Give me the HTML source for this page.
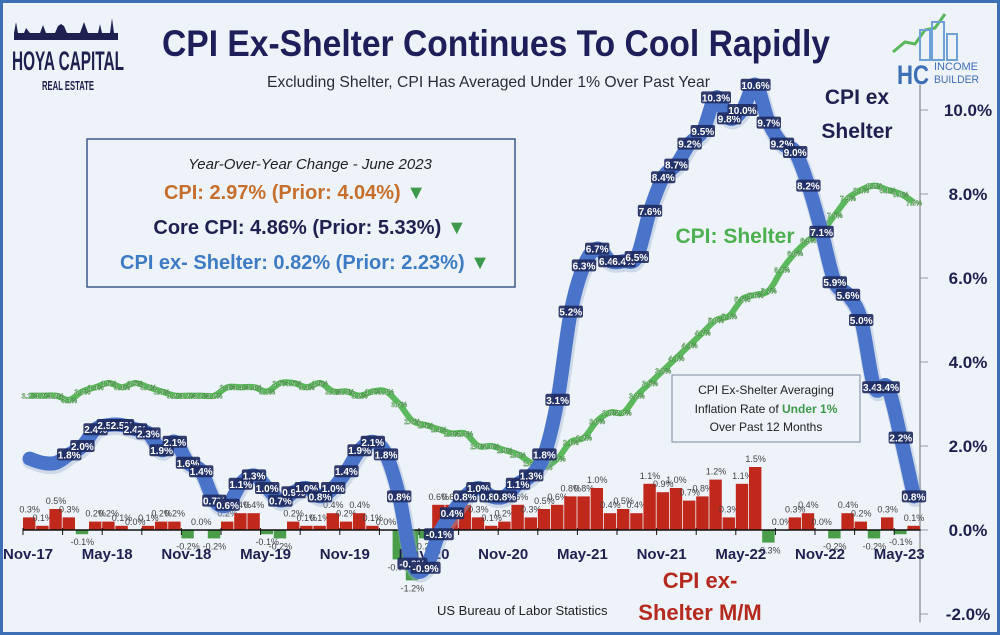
<!DOCTYPE html>
<html><head><meta charset="utf-8"><style>
html,body{margin:0;padding:0;background:#eef3f9;}
#wrap{position:relative;width:1000px;height:635px;overflow:hidden;font-family:"Liberation Sans",sans-serif;}
svg text{font-family:"Liberation Sans",sans-serif;}
</style></head><body>
<div id="wrap">
<svg id="chart" width="1000" height="635" viewBox="0 0 1000 635">
<rect x="1.5" y="1.5" width="997" height="632" fill="#eef3f9" stroke="#3d6fb6" stroke-width="3"/>
<g>
<path d="M14 33 L16 22 L18 33 L24 33 L26 28 L30 33 L40 33 L43 25 L46 33 L55 33 L58 26 L61 24 L64 26 L67 33 L80 33 L84 22 L88 33 L98 33 L100 24 L102 33 L110 33 L112 18 L114 33 L118 33 L118 40 L14 40 Z" fill="#1e2150"/>
<text x="12" y="70" font-size="27" font-weight="bold" fill="#1e2150" textLength="112" lengthAdjust="spacingAndGlyphs">HOYA CAPITAL</text>
<text x="42" y="90" font-size="13" font-weight="bold" fill="#1e2150" textLength="52" lengthAdjust="spacingAndGlyphs">REAL ESTATE</text>
</g>
<text x="162" y="56" font-size="37" font-weight="bold" fill="#1e1f5a" textLength="668" lengthAdjust="spacingAndGlyphs">CPI Ex-Shelter Continues To Cool Rapidly</text>
<text x="267" y="87" font-size="16" fill="#2a2a3a" textLength="443" lengthAdjust="spacingAndGlyphs">Excluding Shelter, CPI Has Averaged Under 1% Over Past Year</text>
<g>
<polyline points="893,52 905,42 915,44 925,30 935,28 945,14" fill="none" stroke="#5bb85a" stroke-width="3"/>
<rect x="920" y="30" width="10" height="30" fill="none" stroke="#6fa0d8" stroke-width="2"/>
<rect x="932" y="22" width="12" height="38" fill="none" stroke="#6fa0d8" stroke-width="2"/>
<rect x="947" y="34" width="10" height="26" fill="none" stroke="#6fa0d8" stroke-width="2"/>
<text x="897" y="84" font-size="27" font-weight="bold" fill="#3d6fb6" textLength="32" lengthAdjust="spacingAndGlyphs">HC</text>
<text x="934" y="70" font-size="11" fill="#3d6fb6" textLength="44" lengthAdjust="spacingAndGlyphs">INCOME</text>
<text x="934" y="83" font-size="11" fill="#3d6fb6" textLength="45" lengthAdjust="spacingAndGlyphs">BUILDER</text>
</g>
<g>
<rect x="87" y="139" width="428" height="148" fill="#eef3f9" stroke="#3d5a8a" stroke-width="1.5"/>
<text x="310" y="169" text-anchor="middle" font-size="15" font-style="italic" fill="#222">Year-Over-Year Change - June 2023</text>
<text x="295" y="199" text-anchor="middle" font-size="20" font-weight="bold" fill="#c66f2d">CPI: 2.97% (Prior: 4.04%) <tspan fill="#3e9a4a">▼</tspan></text>
<text x="310" y="234" text-anchor="middle" font-size="20" font-weight="bold" fill="#1e2150">Core CPI: 4.86% (Prior: 5.33%) <tspan fill="#3e9a4a">▼</tspan></text>
<text x="305" y="269" text-anchor="middle" font-size="20" font-weight="bold" fill="#3d7cc4">CPI ex- Shelter: 0.82% (Prior: 2.23%) <tspan fill="#3e9a4a">▼</tspan></text>
</g>
<g>
<rect x="672" y="375" width="188" height="67" fill="#eef3f9" stroke="#7a8aa0" stroke-width="1"/>
<text x="766" y="394" text-anchor="middle" font-size="12" fill="#222">CPI Ex-Shelter Averaging</text>
<text x="766" y="413" text-anchor="middle" font-size="12" fill="#222">Inflation Rate of <tspan font-weight="bold" fill="#3e9a4a">Under 1%</tspan></text>
<text x="766" y="431" text-anchor="middle" font-size="12" fill="#222">Over Past 12 Months</text>
</g>
<g id="plot"></g>
<text x="857" y="104" text-anchor="middle" font-size="21" font-weight="bold" fill="#1e2150">CPI ex</text>
<text x="857" y="138" text-anchor="middle" font-size="21" font-weight="bold" fill="#1e2150">Shelter</text>
<text x="735" y="243" text-anchor="middle" font-size="21" font-weight="bold" fill="#4caf50">CPI: Shelter</text>
<text x="700" y="588" text-anchor="middle" font-size="22" font-weight="bold" fill="#b52a1e">CPI ex-</text>
<text x="700" y="620" text-anchor="middle" font-size="22" font-weight="bold" fill="#b52a1e">Shelter M/M</text>
<text x="437" y="615" font-size="13" fill="#222">US Bureau of Labor Statistics</text>
</svg>
</div>
<script>
const months = ["Nov-17","Dec-17","Jan-18","Feb-18","Mar-18","Apr-18","May-18","Jun-18","Jul-18","Aug-18","Sep-18","Oct-18","Nov-18","Dec-18","Jan-19","Feb-19","Mar-19","Apr-19","May-19","Jun-19","Jul-19","Aug-19","Sep-19","Oct-19","Nov-19","Dec-19","Jan-20","Feb-20","Mar-20","Apr-20","May-20","Jun-20","Jul-20","Aug-20","Sep-20","Oct-20","Nov-20","Dec-20","Jan-21","Feb-21","Mar-21","Apr-21","May-21","Jun-21","Jul-21","Aug-21","Sep-21","Oct-21","Nov-21","Dec-21","Jan-22","Feb-22","Mar-22","Apr-22","May-22","Jun-22","Jul-22","Aug-22","Sep-22","Oct-22","Nov-22","Dec-22","Jan-23","Feb-23","Mar-23","Apr-23","May-23","Jun-23"];
const exShelterYoY = [1.7,1.6,1.6,1.8,2.0,2.4,2.5,2.5,2.4,2.3,1.9,2.1,1.6,1.4,0.7,0.6,1.1,1.3,1.0,0.7,0.9,1.0,0.8,1.0,1.4,1.9,2.1,1.8,0.8,-0.8,-0.9,-0.1,0.4,0.8,1.0,0.8,0.8,1.1,1.3,1.8,3.1,5.2,6.3,6.7,6.4,6.4,6.5,7.6,8.4,8.7,9.2,9.5,10.3,9.8,10.0,10.6,9.7,9.2,9.0,8.2,7.1,5.9,5.6,5.0,3.4,3.4,2.2,0.8];
const shelterYoY = [3.2,3.2,3.2,3.1,3.3,3.4,3.5,3.4,3.5,3.4,3.3,3.2,3.2,3.2,3.2,3.4,3.4,3.4,3.3,3.5,3.5,3.4,3.5,3.3,3.3,3.2,3.3,3.3,3.0,2.6,2.5,2.4,2.3,2.3,2.0,2.0,1.9,1.8,1.6,1.5,1.7,2.1,2.2,2.6,2.8,2.8,3.2,3.5,3.8,4.1,4.4,4.7,5.0,5.1,5.5,5.6,5.7,6.2,6.6,6.9,7.1,7.5,7.9,8.1,8.2,8.1,8.0,7.8];
const exShelterMoM = [0.3,0.1,0.5,0.3,-0.1,0.2,0.2,0.1,0.0,0.1,0.2,0.2,-0.2,0.0,-0.2,0.2,0.4,0.4,-0.1,-0.2,0.2,0.1,0.1,0.4,0.2,0.4,0.1,0.0,-0.7,-1.2,-0.2,0.6,0.6,0.6,0.3,0.1,0.2,0.6,0.3,0.5,0.6,0.8,0.8,1.0,0.4,0.5,0.4,1.1,0.9,1.0,0.7,0.8,1.2,0.3,1.1,1.5,-0.3,0.0,0.3,0.4,0.0,-0.2,0.4,0.2,-0.2,0.3,-0.1,0.1];
const yTicks = [-2,0,2,4,6,8,10];
const xTickLabels = ["Nov-17","May-18","Nov-18","May-19","Nov-19","May-20","Nov-20","May-21","Nov-21","May-22","Nov-22","May-23"];

const NS="http://www.w3.org/2000/svg";
const plot=document.getElementById('plot');
const step=13.2, x0=23;
function xEdge(i){return x0+step*i;}
function xC(i){return x0+step*(i+0.5);}
function yS(v){return 530-42*v;}
function mk(tag,attrs,parent){const e=document.createElementNS(NS,tag);for(const k in attrs)e.setAttribute(k,attrs[k]);(parent||plot).appendChild(e);return e;}
function fmt(v){return v.toFixed(1)+'%';}

const axis=mk('g',{});


mk('line',{x1:920,y1:yS(10.6),x2:920,y2:yS(-2.2),stroke:'#999','stroke-width':1.5},axis);
yTicks.forEach(v=>{
  mk('line',{x1:920,y1:yS(v),x2:928,y2:yS(v),stroke:'#999','stroke-width':1},axis);
  const t=mk('text',{x:968,y:yS(v)+6,'text-anchor':'middle','font-size':17,'font-weight':'bold',fill:'#1e2150'},axis);
  t.textContent=v.toFixed(1)+'%';
  
  
});

const bars=mk('g',{});


exShelterMoM.forEach((v,i)=>{
  const y=Math.min(yS(v),yS(0)), h=Math.abs(yS(v)-yS(0));
  const r=mk('rect',{x:xEdge(i),y:y,width:step-0.8,height:Math.max(h,0.5),fill:v>=0?'#c0281c':'#4a9e4a'},bars);
  
  
  const t=mk('text',{x:xC(i),y:v>=0?yS(v)-5:yS(v)+11,'text-anchor':'middle','font-size':9,fill:'#444'},bars);
  t.textContent=fmt(v);
  
  
});
const xa=mk('g',{});


mk('line',{x1:xEdge(0),y1:yS(0),x2:xEdge(68),y2:yS(0),stroke:'#111','stroke-width':1.5},xa);
for(let i=0;i<=68;i+=3){mk('line',{x1:xEdge(i),y1:yS(0)-2,x2:xEdge(i),y2:yS(0)+5,stroke:'#111','stroke-width':1},xa);}
xTickLabels.forEach((lab,k)=>{
  const t=mk('text',{x:xEdge(k*6)+5,y:559,'text-anchor':'middle','font-size':15,'font-weight':'bold',fill:'#1e2150'},xa);
  t.textContent=lab;
  
  
});

function smooth(vals){
  const p=vals.map((v,i)=>[xC(i),yS(v)]);
  let d='M'+p[0][0]+' '+p[0][1];
  for(let i=0;i<p.length-1;i++){
    const a=p[Math.max(i-1,0)],b=p[i],c=p[i+1],e=p[Math.min(i+2,p.length-1)];
    const c1=[b[0]+(c[0]-a[0])/6,b[1]+(c[1]-a[1])/6],c2=[c[0]-(e[0]-b[0])/6,c[1]-(e[1]-b[1])/6];
    d+=' C'+c1[0]+' '+c1[1]+' '+c2[0]+' '+c2[1]+' '+c[0]+' '+c[1];
  }
  return d;
}
const gl=mk('path',{d:smooth(shelterYoY),fill:'none',stroke:'#5cb85c','stroke-width':6,'stroke-linejoin':'round'});


const gLabs=mk('g',{});


shelterYoY.forEach((v,i)=>{
  const t=mk('text',{x:xC(i),y:yS(v)+3,'text-anchor':'middle','font-size':7,'font-weight':'bold',fill:'#fff',stroke:'#2f7f2f','stroke-width':0.4},gLabs);
  t.textContent=fmt(v);
  
  
});
mk('path',{d:smooth(exShelterYoY),fill:'none',stroke:'#9aaed0','stroke-width':17,'stroke-linecap':'round',opacity:0.4,transform:'translate(1 2)'});
const bl=mk('path',{d:smooth(exShelterYoY),fill:'none',stroke:'#4a74c9','stroke-width':14,'stroke-linecap':'round','stroke-linejoin':'round'});


const bLabs=mk('g',{});


exShelterYoY.forEach((v,i)=>{
  if(i<3)return;
  const s=fmt(v), w=s.length*5.6+2;
  mk('rect',{x:xC(i)-w/2,y:yS(v)-6,width:w,height:12,rx:2,fill:'#1e2a5e',opacity:0.9},bLabs);
  const t=mk('text',{x:xC(i),y:yS(v)+4,'text-anchor':'middle','font-size':10,'font-weight':'bold',fill:'#fff'},bLabs);
  t.textContent=s;
  
  
});
</script>
</body></html>
